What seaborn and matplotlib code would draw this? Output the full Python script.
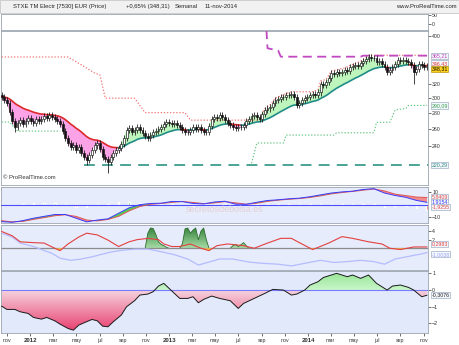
import numpy as np
import pandas as pd
import matplotlib
matplotlib.use("Agg")
import matplotlib.pyplot as plt
import matplotlib.dates as mdates
from matplotlib.colors import LinearSegmentedColormap
from matplotlib.path import Path
from matplotlib.patches import Rectangle
from matplotlib.ticker import FixedLocator, NullLocator, FixedFormatter
import seaborn as sns

sns.set_style("white")
plt.rcParams["font.family"] = ["Liberation Sans", "DejaVu Sans"]

# ---------------- data (weekly) ----------------
first_week = "2011-10-17"
close = [302, 297, 293, 281, 270, 262, 268, 271, 266, 270,
         274, 270, 268, 272, 270, 273, 276, 274, 277, 275,
         272, 270, 266, 258, 250, 244, 239, 242, 236, 239,
         233, 228, 225, 231, 236, 241, 244, 237, 229, 226,
         223, 228, 233, 236, 238, 243, 250, 259, 261, 256,
         259, 263, 259, 255, 252, 250, 253, 256, 258, 260,
         262, 266, 269, 268, 266, 267, 265, 262, 259, 257,
         256, 259, 262, 260, 262, 259, 257, 256, 264, 273,
         275, 274, 277, 275, 271, 268, 265, 262, 261, 263,
         262, 265, 270, 273, 276, 277, 275, 273, 279, 284,
         286, 288, 293, 297, 299, 301, 302, 305, 304, 306,
         302, 291, 294, 297, 300, 302, 305, 306, 304, 308,
         321, 319, 323, 330, 337, 335, 339, 337, 339, 342,
         340, 346, 348, 350, 348, 353, 356, 360, 363, 361,
         362, 354, 356, 352, 347, 339, 342, 346, 352, 358,
         356, 358, 357, 354, 350, 339, 344, 352, 350, 346,
         348.31]
first_open = 305.0
spike_weeks = [5, 32, 40, 155]
spike_lows = [256.0, 220.29, 212.0, 321.0]

res_weeks = [0, 25, 30, 35, 37, 39, 50, 54, 69, 71, 97, 99, 101, 103, 106,
             109, 117, 119, 120, 122, 124, 126, 129, 131, 133, 135, 137, 138, 160]
res_vals = [363, 363, 350, 337, 334, 300, 300, 280.5, 280.5, 271, 271, 286, 291, 300, 305,
            309, 309, 312, 325, 327, 340, 342, 345, 349, 352, 356, 362, 366, 366]
sup1_weeks = [0, 3, 6, 22]
sup1_vals = [268.6, 268.6, 257.6, 257.6]
sup2_weeks = [93, 94, 96, 106, 107, 125, 126, 140, 141, 146, 148, 152, 153, 160]
sup2_vals = [220.3, 222, 243.8, 243.8, 252.9, 252.9, 255.6, 255.6, 268.3, 268.3,
             284, 286, 290.09, 290.09]
mag_weeks = [99, 100, 104, 105, 135, 136, 160]
mag_vals = [470.0, 378.0, 374.0, 363.5, 363.5, 365.21, 365.21]
floor_weeks = [31, 161]
floor_vals = [220.29, 220.29]

macd_weeks = list(range(0, 161, 4))
macd_vals = [-13.8, -14.3, -13.0, -11.0, -9.5, -8.0, -8.0, -11.0, -14.0, -12.5,
             -11.5, -7.0, -2.5, 0.0, 1.0, 1.2, 2.6, 2.5, 1.0, 0.6,
             2.2, 2.8, 0.4, 0.3, 2.0, 3.4, 4.0, 4.8, 5.3, 6.5,
             8.0, 9.5, 10.4, 11.0, 12.4, 13.0, 9.5, 7.5, 6.0, 3.5, 1.9]
signal_vals = [-13.0, -14.0, -13.6, -12.0, -10.5, -9.0, -8.2, -9.5, -12.5, -13.2,
               -12.0, -9.5, -5.0, -1.5, 0.3, 1.0, 1.9, 2.6, 1.8, 0.9,
               1.4, 2.5, 1.5, 0.4, 1.2, 2.7, 3.7, 4.4, 5.0, 5.9,
               7.2, 8.8, 9.9, 10.8, 11.8, 12.8, 11.2, 8.6, 7.4, 6.2, 5.84]

adx_red_weeks = [0, 4, 7, 12, 16, 20, 22, 25, 29, 32, 36, 40, 44, 48, 51, 55, 59, 61, 64, 67,
                 71, 75, 78, 81, 85, 91, 95, 100, 105, 109, 112, 117, 123, 128, 132, 138,
                 143, 146, 150, 155, 160]
adx_red_vals = [3.9, 2.9, 1.5, 1.3, 1.2, 0.0, -0.55, 1.0, 2.6, 3.5, 3.1, 1.9, 0.4, 1.5, 2.0,
                2.3, 2.0, 1.0, 0.4, 0.4, 1.0, 0.0, -0.55, 0.6, 1.0, 0.6, 0.0, 1.2, 2.3, 2.3,
                1.3, -0.3, 1.2, 2.7, 2.3, 1.5, 1.0, 0.0, -0.3, 0.3, 0.3]
adx_blue_weeks = [0, 4, 7, 12, 19, 22, 26, 30, 34, 37, 41, 45, 50, 55, 60, 65, 70, 74, 78, 82,
                  87, 93, 98, 104, 109, 114, 120, 125, 130, 135, 140, 144, 148, 153, 158, 160]
adx_blue_vals = [3.5, 2.6, 1.2, 0.4, -1.2, -2.3, -2.8, -2.5, -2.0, -1.5, -0.9, -0.5, -0.2,
                 -0.2, -0.8, -1.5, -2.5, -3.9, -3.2, -2.5, -2.5, -3.2, -3.5, -3.7, -4.1,
                 -3.5, -2.8, -3.3, -3.1, -2.8, -3.1, -3.7, -2.5, -1.9, -1.3, -1.0]
hump_weeks = [54, 55, 56, 57, 58, 59, 60, 61, 62, 63,
              67, 68, 69, 70, 71, 72, 73, 74, 75, 76, 77, 78,
              86, 87, 88, 89, 90, 91, 92, 93]
hump_vals = [0, 3.5, 4.7, 4.6, 3.2, 1.5, 0.9, 0.6, 0.2, 0,
             0, 1.0, 4.5, 4.7, 3.5, 4.2, 4.7, 2.0, 4.0, 4.7, 2.0, 0,
             0, 0.6, 0.9, 0.4, 0.8, 1.3, 0.6, 0]

osc_weeks = [0, 2, 5, 7, 10, 12, 15, 17, 20, 22, 25, 27, 29, 31, 34, 36, 38, 40, 42, 45,
             47, 50, 52, 55, 57, 59, 61, 63, 65, 67, 70, 72, 74, 76, 79, 82, 86, 89, 91, 95,
             99, 102, 106, 109, 111, 114, 116, 119, 121, 126, 130, 132, 135, 138, 141, 145,
             147, 150, 153, 155, 158, 160]
osc_vals = [-0.96, -1.16, -1.16, -1.30, -1.40, -1.64, -1.74, -1.64, -1.84, -2.04,
            -2.30, -2.40, -2.10, -1.96, -1.76, -1.84, -2.16, -2.20, -1.90, -1.50,
            -1.00, -0.64, -0.30, -0.24, -0.10, 0.24, 0.40, 0.10, -0.20, -0.50,
            -0.50, -0.40, -0.76, -0.56, -0.36, -0.50, -0.64, -1.10, -0.80, -0.50,
            -0.20, 0.04, 0.00, -0.30, -0.24, 0.00, 0.30, 0.50, 0.75, 1.00,
            0.80, 0.90, 0.70, 0.90, 0.40, 0.00, 0.24, 0.30, 0.16, 0.00, -0.40, -0.31]

month_labels = ["nov", "2012", "mar", "may", "jul", "sep", "nov", "2013", "mar", "may",
                "jul", "sep", "nov", "2014", "mar", "may", "jul", "sep", "nov"]

# ---------------- helpers ----------------
start = pd.Timestamp(first_week)


def wk(idx):
    return start + pd.to_timedelta(np.asarray(idx) * 7, unit="D")


W, H = 460, 345
fig = plt.figure(figsize=(4.6, 3.45), dpi=100)
fig.patch.set_facecolor("white")


def rect(x0, y0, x1, y1):
    return [x0 / W, 1 - y1 / H, (x1 - x0) / W, (y1 - y0) / H]


xmin = start - pd.Timedelta(days=1.5)
xmax = start + pd.Timedelta(days=1122.5)


def grad_fill(ax, x, y, base, where, c_bottom, c_top, y0, y1, z=1):
    coll = ax.fill_between(x, y, base, where=where, interpolate=True,
                           facecolor="none", edgecolor="none")
    paths = [p for p in coll.get_paths() if len(p.vertices)]
    if not paths:
        return
    comp = Path.make_compound_path(*paths)
    xn = mdates.date2num(x)
    cmap = LinearSegmentedColormap.from_list("g", [c_bottom, c_top])
    g = np.linspace(0, 1, 256).reshape(-1, 1)
    im = ax.imshow(g, cmap=cmap, aspect="auto", origin="lower",
                   extent=[xn[0], xn[-1], y0, y1], zorder=z, interpolation="bilinear")
    im.set_clip_path(comp, ax.transData)


def tag(ax, y, text, tc, fc="#f3f6fb", ec="#9fb0c4"):
    ax.annotate(text, xy=(1.0, y), xycoords=("axes fraction", "data"),
                xytext=(2.5, 0), textcoords="offset points", fontsize=3.8, color=tc,
                va="center", ha="left", annotation_clip=False, zorder=10,
                bbox=dict(boxstyle="square,pad=0.12", fc=fc, ec=ec, lw=0.5))


# title bar
fig.patches.append(Rectangle((0, 1 - 13 / H), 1, 13 / H, transform=fig.transFigure,
                             facecolor="#f1f1f1", edgecolor="#c8c8c8", lw=0.6, zorder=0))
ty = 1 - 6.5 / H
fig.text(13 / W, ty, "STXE TM Electr [7530] EUR (Price)", fontsize=4.2, va="center")
fig.text(126 / W, ty, "+0,65% (348,31)", fontsize=4.2, va="center")
fig.text(175 / W, ty, "Semanal", fontsize=4.2, va="center")
fig.text(205 / W, ty, "11-nov-2014", fontsize=4.2, va="center")
fig.text(457 / W, ty, "www.ProRealTime.com", fontsize=4.2, va="center", ha="right")

ax0 = fig.add_axes(rect(1, 14, 428, 30))
ax1 = fig.add_axes(rect(1, 31, 428, 185))
ax2 = fig.add_axes(rect(1, 187, 428, 223))
ax3 = fig.add_axes(rect(1, 225, 428, 270))
ax4 = fig.add_axes(rect(1, 271, 428, 333))
axes = [ax0, ax1, ax2, ax3, ax4]

# ---------------- price panel ----------------
dates = wk(range(len(close)))
c = np.array(close, dtype=float)
o = np.r_[first_open, c[:-1]]
hi = np.maximum(o, c) * 1.014
lo = np.minimum(o, c) * 0.986
lo[spike_weeks] = spike_lows
ema = pd.Series(c).ewm(span=20, adjust=False).mean().to_numpy()
below = c < ema

ax1.fill_between(dates, c, ema, where=below, interpolate=True, color="#fba3e6", lw=0, zorder=1)
ax1.fill_between(dates, c, ema, where=~below, interpolate=True, color="#bdf5bd", lw=0, zorder=1)
red_mask = below | np.r_[below[1:], False]
teal_mask = (~below) | np.r_[(~below)[1:], False]
ax1.plot(dates, np.where(red_mask, ema, np.nan), color="#dd2a2a", lw=1.2, zorder=3)
ax1.plot(dates, np.where(teal_mask, ema, np.nan), color="#1f8c86", lw=1.2, zorder=3)

ax1.plot(wk(res_weeks), res_vals, color="#f26b6b", lw=0.8, linestyle=(0, (1.2, 1.6)), zorder=4)
ax1.plot(wk(sup1_weeks), sup1_vals, color="#5fc27f", lw=0.8, linestyle=(0, (1.2, 1.6)), zorder=4)
ax1.plot(wk(sup2_weeks), sup2_vals, color="#5fc27f", lw=0.8, linestyle=(0, (1.2, 1.6)), zorder=4)
ax1.plot(wk(mag_weeks), mag_vals, color="#c149c1", lw=1.3, linestyle=(0, (5, 3)), zorder=4)
ax1.plot(wk(floor_weeks), floor_vals, color="#3e9c8f", lw=1.3, linestyle=(0, (6, 4)), zorder=4)

ax1.vlines(dates, lo, hi, color="#111111", lw=0.55, zorder=5)
up = c >= o
ax1.bar(dates[up], (c - o)[up], bottom=o[up], width=5.0, color="white",
        edgecolor="#111111", lw=0.45, zorder=6)
ax1.bar(dates[~up], (o - c)[~up], bottom=c[~up], width=5.0, color="#111111",
        edgecolor="#111111", lw=0.45, zorder=6)

ax1.set_yscale("log")
ax1.set_ylim(200.7, 409.4)
ax1.yaxis.set_major_locator(FixedLocator([240, 260, 280, 300, 320, 400]))
ax1.yaxis.set_major_formatter(FixedFormatter(["240", "260", "280", "300", "320", "400"]))
ax1.yaxis.set_minor_locator(NullLocator())
ax1.text(0.004, 0.035, "© ProRealTime.com", transform=ax1.transAxes, fontsize=4.2,
         color="#333333", va="bottom")
tag(ax1, 365.21, "365,21", "#c040c0")
tag(ax1, 352.5, "346,43", "#e03030")
tag(ax1, 343.0, "348,31", "#000000", fc="#ffd21f", ec="#b89a10")
tag(ax1, 290.09, "290,09", "#3aa050")
tag(ax1, 220.29, "220,29", "#2a8a80")

# ---------------- top (empty) panel ----------------
ax0.set_ylim(-33, 56)
ax0.set_yticks([0, 50])

# ---------------- MACD panel ----------------
mw = wk(macd_weeks)
m = np.array(macd_vals)
s = np.array(signal_vals)
h = m - s
ax2.set_facecolor("#e6ecfb")
ax2.bar(mw, h, width=4, color=np.where(h >= 0, "#4cc84c", "#e85050"), zorder=2)
ax2.fill_between(mw, m, s, where=m >= s, interpolate=True, color="#55d055", lw=0, zorder=2)
ax2.fill_between(mw, m, s, where=m < s, interpolate=True, color="#f08c8c", lw=0, zorder=2)
ax2.axhline(0, color="#4d4dff", lw=0.8, zorder=3)
sns.lineplot(x=mw, y=s, ax=ax2, color="#e05555", lw=0.7, zorder=4)
sns.lineplot(x=mw, y=m, ax=ax2, color="#3b3bff", lw=0.7, zorder=4)
ax2.set_ylim(-14.9, 14.4)
ax2.set_yticks([10, -10])
tag(ax2, 6.3, "5,8409", "#e04848")
tag(ax2, 2.4, "1,9154", "#3838ff")
tag(ax2, -2.1, "-1,9255", "#e04848")

# ---------------- ADX-type panel ----------------
ax3.set_facecolor("#e6ecfb")
ax3.set_ylim(-5.05, 5.4)
hw = wk(hump_weeks)
hv = np.array(hump_vals, dtype=float)
grad_fill(ax3, hw, hv, 0, hv > 0, "#a6dba6", "#2f7d34", 0, 5.0, z=1)
hw_arr = np.array(hump_weeks)
splits = np.where(np.diff(hw_arr) > 1)[0] + 1
for seg_w, seg_v in zip(np.split(hw_arr, splits), np.split(hv, splits)):
    ax3.plot(wk(seg_w), seg_v, color="#2c6e2c", lw=0.6, zorder=2)
ax3.axhline(0, color="#8c8c8c", lw=0.9, zorder=2)
rw = wk(adx_red_weeks)
rv = np.array(adx_red_vals)
ax3.fill_between(rw, rv, 0, where=rv < 0, interpolate=True, color="#f5c542", lw=0, zorder=2)
sns.lineplot(x=wk(adx_blue_weeks), y=adx_blue_vals, ax=ax3, color="#b4bcff", lw=0.9, zorder=3)
sns.lineplot(x=rw, y=rv, ax=ax3, color="#e34040", lw=0.8, zorder=4)
ax3.set_yticks([4, 2])
tag(ax3, 1.0, "0,2983", "#e04040")
tag(ax3, -1.4, "-1,0038", "#9aa4ff")

# ---------------- oscillator panel ----------------
ax4.set_facecolor("#e2e9fb")
ax4.set_ylim(-2.57, 1.14)
ow = wk(osc_weeks)
ov = np.array(osc_vals)
grad_fill(ax4, ow, ov, 0, ov < 0, "#e8386a", "#f6d3de", -2.57, 0, z=1)
grad_fill(ax4, ow, ov, 0, ov > 0, "#c9f5c9", "#8fe48f", 0, 1.14, z=1)
ax4.axhline(0, color="#7b7bff", lw=0.8, zorder=2)
sns.lineplot(x=ow, y=ov, ax=ax4, color="#1a1a1a", lw=0.7, zorder=3)
ax4.set_yticks([1, 0, -1, -2])
tag(ax4, -0.31, "-0,3076", "#222222")

# ---------------- common axis styling ----------------
for ax in axes:
    ax.set_xlim(xmin, xmax)
    ax.set_xlabel("")
    ax.set_ylabel("")
    ax.yaxis.tick_right()
    ax.tick_params(axis="y", which="major", labelsize=3.8, length=2, width=0.5, pad=1,
                   colors="#333333", right=True, left=False)
    ax.tick_params(axis="x", which="both", bottom=False, labelbottom=False)
    for sp in ax.spines.values():
        sp.set_color("#9aa4ae")
        sp.set_linewidth(0.6)

month_ticks = pd.date_range("2011-11-01", periods=len(month_labels), freq="2MS")
ax4.set_xticks(month_ticks)
ax4.set_xticklabels(month_labels)
ax4.tick_params(axis="x", bottom=True, labelbottom=True, labelsize=3.8, length=2,
                width=0.5, pad=1.5, colors="#333333")
for lbl in ax4.get_xticklabels():
    if lbl.get_text().isdigit():
        lbl.set_fontweight("bold")
        lbl.set_fontsize(4.4)

fig.text(225 / W, 1 - 210 / H, "secretosdebolsa.es", color="#e3c8c8", fontsize=6.5,
         ha="center", va="center", alpha=0.8)

fig.savefig("out.png", dpi=100, facecolor=fig.get_facecolor())
